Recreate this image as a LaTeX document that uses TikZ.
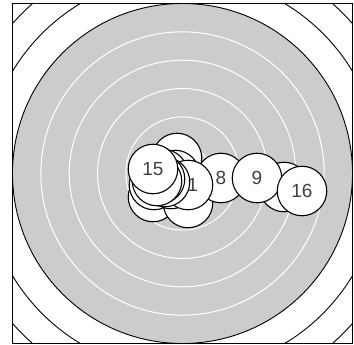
\documentclass[tikz,border=0pt]{standalone}
\usepackage{fontspec}
\setmainfont{Liberation Sans}
\usepackage{tikz}

\begin{document}
\begin{tikzpicture}[x=1pt,y=-1pt,
   shot/.style={circle,draw,line width=1.1pt,fill=white,minimum size=49.5pt,
      inner sep=0pt,font=\fontsize{19}{19}\selectfont,text=black!75},
   ring/.style={line width=0.9pt},
   whitering/.style={white,line width=1pt}
]
   \useasboundingbox (0,0) rectangle (354,345);
   \coordinate (c) at (182.5,173.5);

   % target
   \begin{scope}
      \clip (12.5,4) rectangle (352.5,343);
      \draw[ring] (c) circle[radius=226.67];
      \draw[ring] (c) circle[radius=198.33];
      \draw[ring,fill=black!20] (c) circle[radius=170];
      \foreach \r in {28.33,56.67,85,113.33,141.67}
         \draw[whitering] (c) circle[radius=\r];
   \end{scope}
   \draw[line width=1pt] (12.5,4) rectangle (352.5,343);

   % shots
   \node[shot] (s1) at (177,158) {1};
   \node[shot] (s2) at (284,187) {2};
   \node[shot] (s3) at (153,197) {3};
   \node[shot] (s4) at (188,203) {4};
   \node[shot] (s5) at (154,185) {5};
   \node[shot] (s6) at (175,175) {6};
   \node[shot] (s7) at (171,184) {7};
   \node[shot] (s8) at (221,178) {8};
   \node[shot] (s9) at (257,178) {9};
   \node[shot] (s10) at (163,174) {10};
   \node[shot] (s11) at (188,185) {11};
   \node[shot] (s12) at (165,182) {12};
   \node[shot] (s13) at (160,179) {13};
   \node[shot] (s14) at (157,181) {14};
   \node[shot] (s15) at (153,169) {15};
   \node[shot] (s16) at (302,191) {16};
\end{tikzpicture}
\end{document}
